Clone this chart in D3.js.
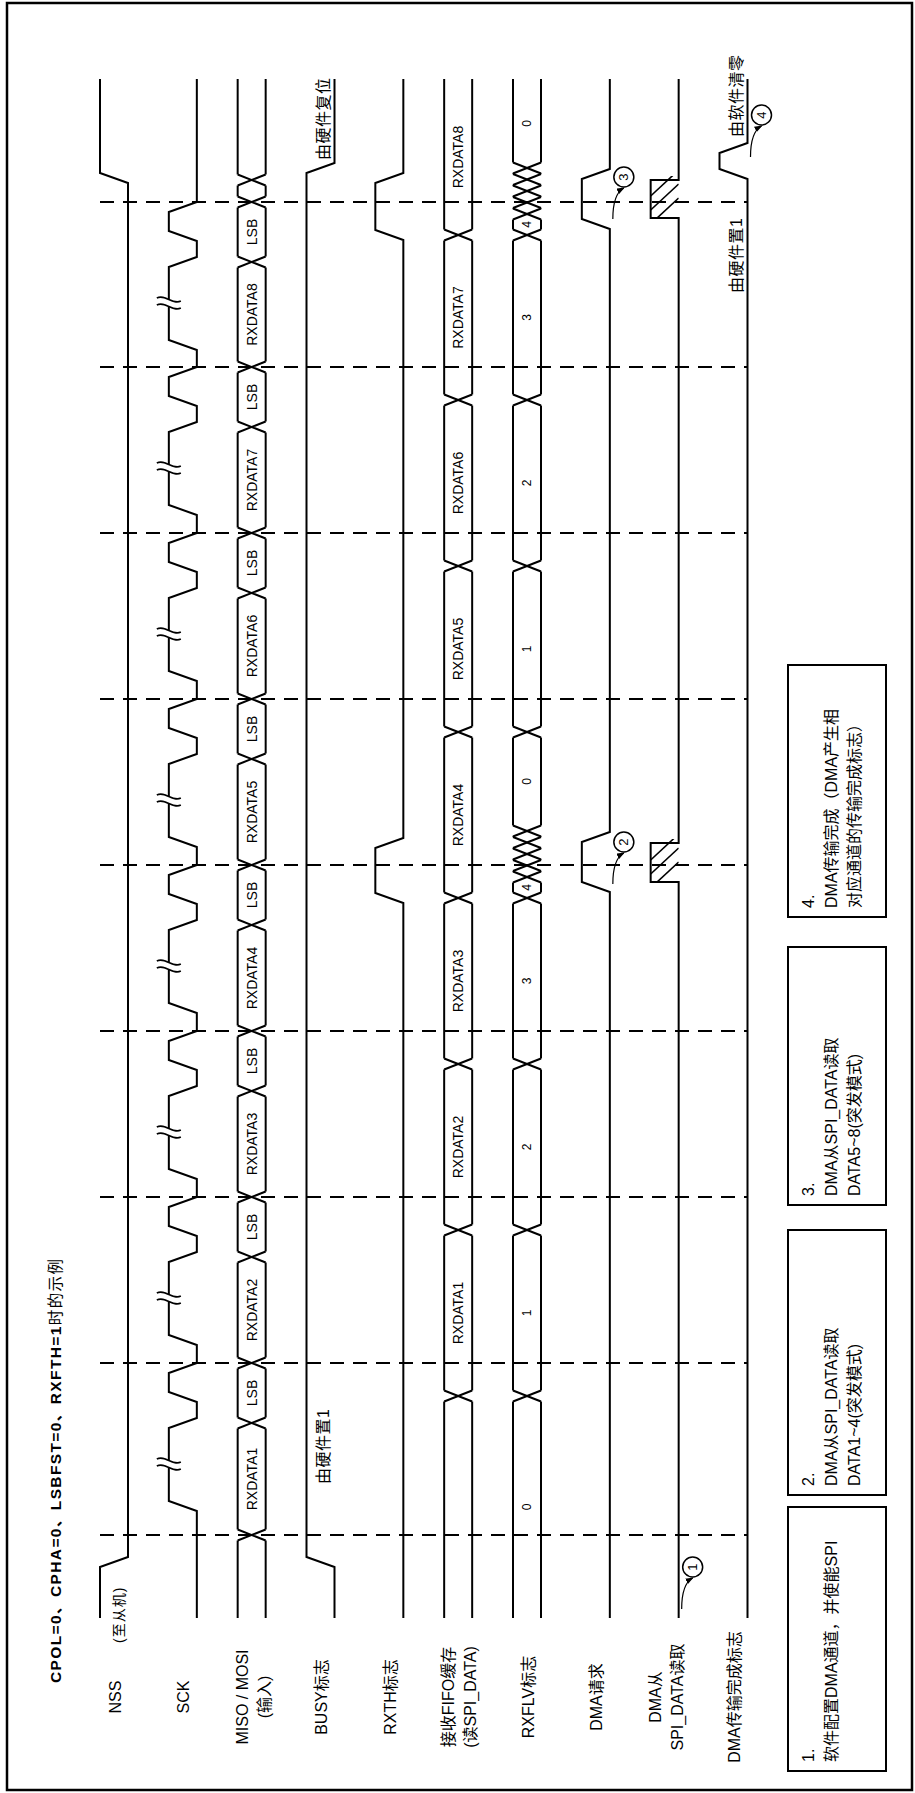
<!DOCTYPE html>
<html><head><meta charset="utf-8">
<script src="https://cdn.jsdelivr.net/npm/d3@7"></script>
<style>body{margin:0;background:#fff} svg{display:block}</style>
</head><body>
<svg id="c" width="915" height="1793"></svg>
<script>
// ---------------- data ----------------
const titleBold = "CPOL=0、CPHA=0、LSBFST=0、RXFTH=1";
const titleRest = "时的示例";
const signals = ["NSS","SCK","MISO","BUSY","RXTH","FIFO","RXFLV","DMAREQ","DMARD","DMADONE"];
const signalLabels = [["NSS"],["SCK"],["MISO / MOSI","(输入)"],["BUSY标志"],["RXTH标志"],
  ["接收FIFO缓存","(读SPI_DATA)"],["RXFLV标志"],["DMA请求"],["DMA从","SPI_DATA读取"],["DMA传输完成标志"]];
const nssNote = "(至从机)";
const timeEnd = 1539;
const byteBounds = [83,255,421,587,753,919,1085,1251,1416];
const nssEdges = [56,1440];
const busyEdges = [56,1450];
const sckEdges = [112,195,221,250, 278,361,387,416, 444,527,553,582, 610,693,719,748,
                  776,859,885,914, 942,1025,1051,1080, 1108,1191,1217,1246, 1273,1356,1382,1411];
const sckBreaks = [154,320,486,652,818,984,1150,1315];
const misoCross = [83,195,255,361,421,527,587,693,753,859,919,1025,1085,1191,1251,1356,1416,1438];
const misoText = ["","RXDATA1","LSB","RXDATA2","LSB","RXDATA3","LSB","RXDATA4","LSB","RXDATA5","LSB",
                  "RXDATA6","LSB","RXDATA7","LSB","RXDATA8","LSB","",""];
const fifoCross = [222,388,554,720,886,1052,1218,1383];
const fifoText = ["","RXDATA1","RXDATA2","RXDATA3","RXDATA4","RXDATA5","RXDATA6","RXDATA7","RXDATA8"];
const rxflvCross = [222,388,554,720,741,752.5,764,775.5,787,886,1052,1218,1383,1404,1415.5,1427,1438.5,1450];
const rxflvText = ["0","1","2","3","4","","","","","0","1","2","3","4","","","","","0"];
const rxthEdges = [720,775,1383,1440];
const dmaReqEdges = [731,781,1394,1444];
const dmaReadBursts = [[736,775],[1400,1438]];
const dmaDoneEdges = [1444,1470];
const markers = [{label:"1",t:51,row:"DMARD"},{label:"2",t:776,row:"DMAREQ"},
                 {label:"3",t:1441,row:"DMAREQ"},{label:"4",t:1503,row:"DMADONE"}];
const notes = [{text:"由硬件置1",t:134,row:"BUSY"},{text:"由硬件复位",t:1458,row:"BUSY"},
               {text:"由硬件置1",t:1325,row:"DMADONE"},{text:"由软件清零",t:1481,row:"DMADONE"}];
const boxTexts = [["1.","软件配置DMA通道，并使能SPI"],
                  ["2.","DMA从SPI_DATA读取","DATA1~4(突发模式)"],
                  ["3.","DMA从SPI_DATA读取","DATA5~8(突发模式)"],
                  ["4.","DMA传输完成（DMA产生相","对应通道的传输完成标志）"]];

// ---------------- layout ----------------
const W = 915, H = 1793;
const FONT = "'Liberation Sans', Arial, 'Noto Sans CJK SC', sans-serif";
const svg = d3.select("#c");
svg.append("rect").attr("width",W).attr("height",H).attr("fill","#fff");
svg.append("rect").attr("x",7).attr("y",3).attr("width",905).attr("height",1787)
   .attr("fill","none").attr("stroke","#000").attr("stroke-width",2.5);

// landscape group: X along the long side (time), Y across
const g = svg.append("g").attr("transform",`translate(0,${H}) rotate(-90)`);
const defs = svg.append("defs");
defs.append("marker").attr("id","ah").attr("viewBox","0 0 8 6").attr("refX",7).attr("refY",3)
  .attr("markerWidth",8).attr("markerHeight",6).attr("markerUnits","userSpaceOnUse").attr("orient","auto")
  .append("path").attr("d","M0,0L8,3L0,6Z").attr("fill","#000");

const x = d3.scaleLinear().domain([0,timeEnd]).range([175,1714]);
const y = d3.scalePoint().domain(signals).range([114,733.5]);
const AMP = 14, EDGE = 5, HX = 5.5;
const hi = r => y(r)-AMP, lo = r => y(r)+AMP;
const line = d3.line();

const style = s => s.attr("fill","none").attr("stroke","#000").attr("stroke-width",2);

// dashed time markers
g.selectAll("line.dash").data(byteBounds).join("line").attr("class","dash")
  .attr("x1",d=>x(d)).attr("x2",d=>x(d)).attr("y1",100).attr("y2",747)
  .attr("stroke","#000").attr("stroke-width",2).attr("stroke-dasharray","14,9");

// title
const tt = g.append("text").attr("x",110).attr("y",61).attr("font-family",FONT)
  .attr("font-size",15.5).attr("textLength",424).attr("lengthAdjust","spacing");
tt.append("tspan").attr("font-weight","bold").text(titleBold);
tt.append("tspan").text(titleRest);

// signal labels
signals.forEach((s,i)=>{
  const lines = signalLabels[i];
  lines.forEach((t,j)=>{
    const by = lines.length===1 ? y(s)+6.5 : y(s)-4+j*22;
    g.append("text").attr("x",96).attr("y",by).attr("text-anchor","middle")
      .attr("font-family",FONT).attr("font-size",16).text(t);
  });
});
g.append("text").attr("x",150).attr("y",y("NSS")+10).attr("font-family",FONT).attr("font-size",14)
  .attr("letter-spacing",1).text(nssNote);

// digital signals
function digital(row, edges, startHigh){
  let lvl = startHigh;
  const L = v => v ? hi(row) : lo(row);
  const pts = [[x(0), L(lvl)]];
  edges.forEach(e=>{ pts.push([x(e-EDGE),L(lvl)]); lvl=!lvl; pts.push([x(e+EDGE),L(lvl)]); });
  pts.push([x(timeEnd), L(lvl)]);
  style(g.append("path").attr("d", line(pts)));
}
digital("NSS", nssEdges, true);
digital("SCK", sckEdges, false);
digital("BUSY", busyEdges, false);
digital("RXTH", rxthEdges, false);
digital("DMAREQ", dmaReqEdges, false);
digital("DMADONE", dmaDoneEdges, false);

// SCK break symbols
sckBreaks.forEach(t=>{
  const X = x(t), Y = hi("SCK");
  g.append("rect").attr("x",X-3.5).attr("y",Y-2).attr("width",7).attr("height",4).attr("fill","#fff");
  [-3.5,3.5].forEach(o=>{
    g.append("path").attr("d",`M${X+o+1.5},${Y-12} C${X+o+6},${Y-4} ${X+o-6},${Y+4} ${X+o-1.5},${Y+12}`)
      .attr("fill","none").attr("stroke","#000").attr("stroke-width",1.6);
  });
});

// DMA read line with hatched bursts
(function(){
  const r="DMARD";
  const path = d3.path();
  path.moveTo(x(0), lo(r));
  dmaReadBursts.forEach(([a,b])=>{
    path.lineTo(x(a), lo(r)); path.lineTo(x(a), hi(r)); path.lineTo(x(b), hi(r)); path.lineTo(x(b), lo(r));
  });
  path.lineTo(x(timeEnd), lo(r));
  style(g.append("path").attr("d", path.toString()));
  dmaReadBursts.forEach(([a,b],k)=>{
    const id="clip"+k;
    defs.append("clipPath").attr("id",id).append("rect")
      .attr("x",x(a)).attr("y",hi(r)).attr("width",x(b)-x(a)+4).attr("height",lo(r)-hi(r));
    const hs = g.append("g").attr("clip-path",`url(#${id})`);
    [-6,8,22].forEach(o=>{
      hs.append("line").attr("x1",x(a+o)).attr("y1",hi(r)).attr("x2",x(a+o+26)).attr("y2",lo(r))
        .attr("stroke","#000").attr("stroke-width",1.6);
    });
  });
})();

// buses
function bus(row, crosses, texts, fs){
  const pts=[0,...crosses,timeEnd];
  for(let i=0;i<pts.length-1;i++){
    const s=pts[i], e=pts[i+1];
    const s2 = i>0 ? s+HX : s, e2 = i<pts.length-2 ? e-HX : e;
    style(g.append("path").attr("d", line([[x(s2),hi(row)],[x(e2),hi(row)]])));
    style(g.append("path").attr("d", line([[x(s2),lo(row)],[x(e2),lo(row)]])));
    if(texts[i]) g.append("text").attr("x",x((s+e)/2)).attr("y",y(row)).attr("text-anchor","middle")
       .attr("dominant-baseline","central").attr("font-family",FONT).attr("font-size",fs).text(texts[i]);
  }
  crosses.forEach(c=>{
    style(g.append("path").attr("d", line([[x(c-HX),hi(row)],[x(c+HX),lo(row)]])));
    style(g.append("path").attr("d", line([[x(c-HX),lo(row)],[x(c+HX),hi(row)]])));
  });
}
bus("MISO", misoCross, misoText, 14);
bus("FIFO", fifoCross, fifoText, 14);
bus("RXFLV", rxflvCross, rxflvText, 12);

// notes
notes.forEach(n=>{
  g.append("text").attr("x",x(n.t)).attr("y",y(n.row)+8).attr("font-family",FONT).attr("font-size",16)
   .attr("letter-spacing",0.5).text(n.text);
});

// numbered markers with arrows
markers.forEach(m=>{
  const cx = x(m.t), cy = y(m.row)+28;
  g.append("circle").attr("cx",cx).attr("cy",cy).attr("r",10).attr("fill","#fff")
    .attr("stroke","#000").attr("stroke-width",1.5);
  g.append("text").attr("x",cx).attr("y",cy).attr("text-anchor","middle").attr("dominant-baseline","central")
    .attr("font-family",FONT).attr("font-size",13).text(m.label);
  const p = d3.path();
  const sx = x(m.t-42), sy = cy-11, ex = cx-11, ey = cy;
  p.moveTo(sx,sy); p.quadraticCurveTo(ex-6, sy, ex, ey);
  g.append("path").attr("d",p.toString()).attr("fill","none").attr("stroke","#000")
    .attr("stroke-width",1.2).attr("marker-end","url(#ah)");
});

// explanation boxes
const boxSpans = [[22,286],[298,563],[588,846],[876,1128]];
boxTexts.forEach((lines,i)=>{
  const [a,b] = boxSpans[i];
  g.append("rect").attr("x",a).attr("y",788).attr("width",b-a).attr("height",98)
    .attr("fill","none").attr("stroke","#000").attr("stroke-width",2);
  lines.forEach((t,j)=>{
    g.append("text").attr("x",a+9).attr("y",814+j*23).attr("font-family",FONT).attr("font-size",16).text(t);
  });
});
</script>
</body></html>
